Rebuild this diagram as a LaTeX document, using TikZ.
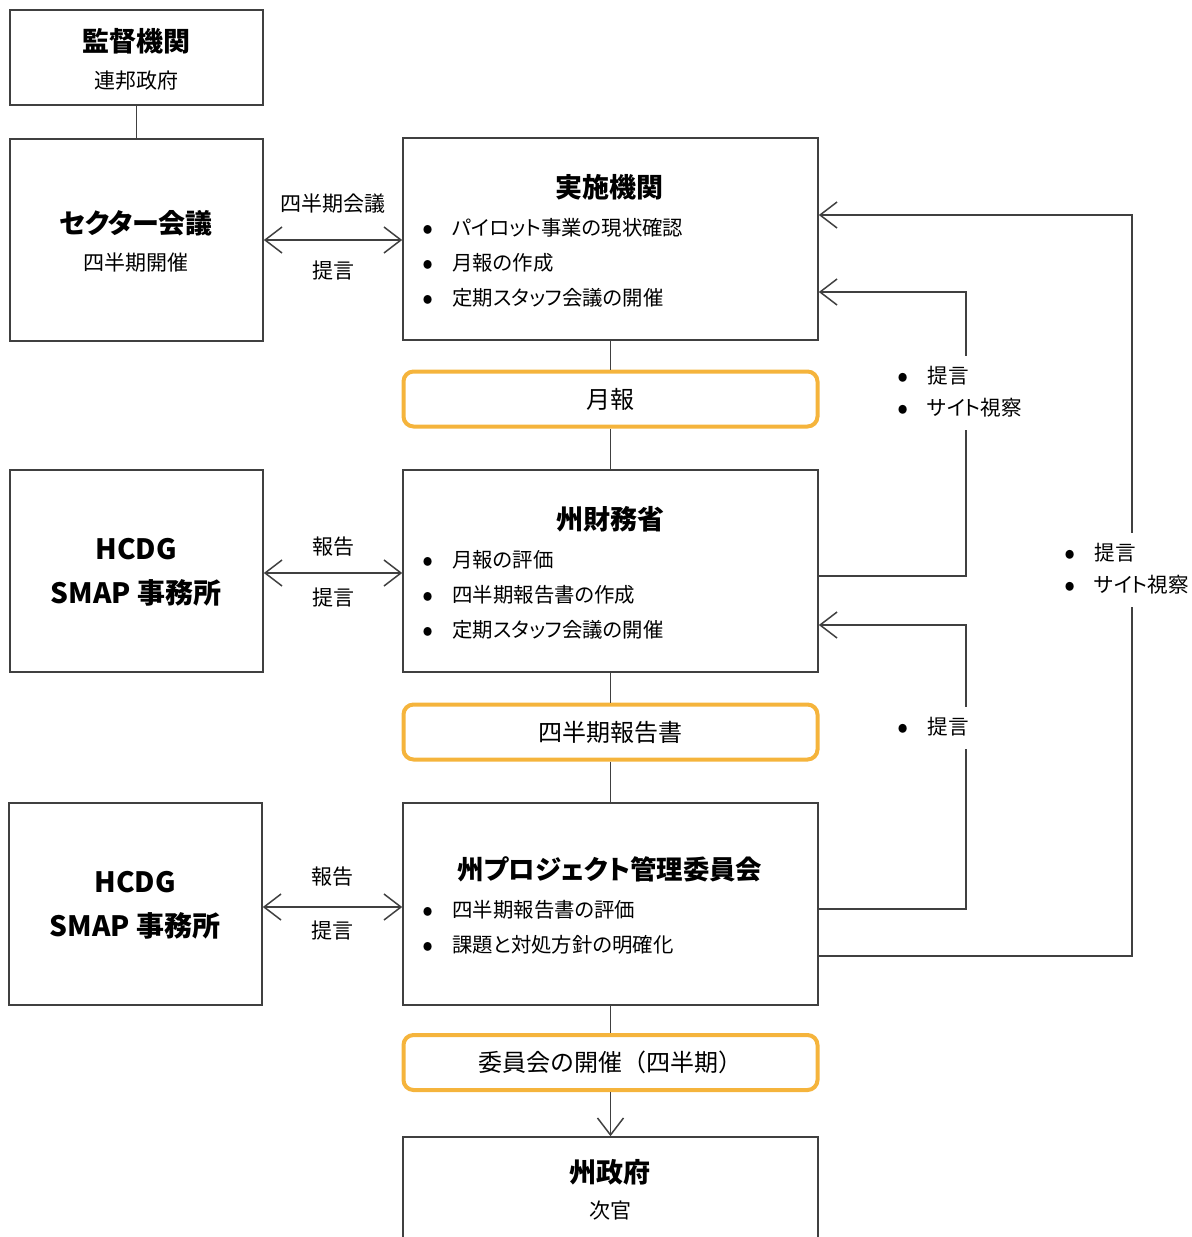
\documentclass[tikz,border=0pt]{standalone}
\usepackage{fontspec}
\setmainfont{Noto Sans CJK JP}[RawFeature=+palt]
\usetikzlibrary{arrows.meta, positioning}

\definecolor{linegray}{RGB}{64,64,64}
\definecolor{reportorange}{RGB}{245,180,60}

\newcommand{\titlefont}{\fontsize{13.5}{16}\selectfont\bfseries}
\newcommand{\bodyfont}{\fontsize{10.5}{17.5}\selectfont}
\newcommand{\itm}[1]{\makebox[24pt][c]{\raisebox{-0.22em}{\scalebox{1.6}{•}}}#1}

\begin{document}
\begin{tikzpicture}[
        x=0.5pt, y=-0.5pt,
        >={Straight Barb[length=8.5pt, width=13pt]},
        conn/.style={draw=linegray, line width=0.75pt},
        feedback/.style={conn, ->},
        sidebox/.style={draw=linegray, line width=0.8pt, minimum width=126.5pt, minimum height=101pt},
        mainbox/.style={draw=linegray, line width=0.8pt, minimum width=207.5pt, minimum height=101pt},
        flowbox/.style={draw=reportorange, line width=2pt, rounded corners=5pt,
            minimum width=207pt, minimum height=27.5pt, font=\fontsize{12}{14}\selectfont},
        title/.style={font=\titlefont, inner sep=0pt},
        sub/.style={font=\bodyfont, inner sep=0pt},
        itemlist/.style={font=\fontsize{10.2}{17.5}\selectfont, align=left, anchor=west, inner sep=0pt},
        edge label/.style={font=\bodyfont, inner sep=1pt},
        side label/.style={font=\fontsize{10.3}{16}\selectfont, align=left, anchor=west,
            fill=white, inner xsep=0pt, inner ysep=5pt},
    ]
    \useasboundingbox (0,0) rectangle (1192,1237);

    % left column
    \node[sidebox, minimum height=47.5pt] (super) at (136.5,57.5) {};
    \node[sidebox] (sector) at (136.5,240) {};
    \node[sidebox] (hcdg1) at (136.5,571) {};
    \node[sidebox] (hcdg2) at (135.5,904) {};

    % main column
    \node[mainbox] (impl) at (610.5,239) {};
    \node[flowbox] (monthly) at (610.5,399) {月報};
    \node[mainbox] (finance) at (610.5,571) {};
    \node[flowbox] (quarterly) at (610.5,732) {四半期報告書};
    \node[mainbox] (pmc) at (610.5,904) {};
    \node[flowbox] (meeting) at (610.5,1062.5) {\addfontfeature{RawFeature=-palt}委員会の開催（四半期）};
    \node[mainbox] (state) at (610.5,1238) {};

    % texts in the boxes
    \node[title] (super title) at (136,41) {監督機関};
    \node[sub] (super sub) at (136,81) {連邦政府};
    \node[title] (sector title) at (136,223) {セクター会議};
    \node[sub] (sector sub) at (136,263) {四半期開催};
    \node[title, align=center, font=\fontsize{14}{22}\selectfont\bfseries] (hcdg1 title) at (136,572) {HCDG\\SMAP 事務所};
    \node[title, align=center, font=\fontsize{14}{22}\selectfont\bfseries] (hcdg2 title) at (135,905) {HCDG\\SMAP 事務所};

    \node[title] (impl title) at (609,187) {実施機関};
    \node[itemlist] (impl items) at (404,264) {\itm{パイロット事業の現状確認}\\\itm{月報の作成}\\\itm{定期スタッフ会議の開催}};
    \node[title] (finance title) at (610,519) {州財務省};
    \node[itemlist] (finance items) at (404,596) {\itm{月報の評価}\\\itm{四半期報告書の作成}\\\itm{定期スタッフ会議の開催}};
    \node[title, font=\fontsize{13.2}{16}\selectfont\bfseries] (pmc title) at (610,869) {州プロジェクト管理委員会};
    \node[itemlist] (pmc items) at (404,928.5) {\itm{四半期報告書の評価}\\\itm{課題と対処方針の明確化}};
    \node[title] (state title) at (610,1172) {州政府};
    \node[sub] (state sub) at (610,1211) {次官};

    % vertical flow
    \draw[conn] (super) -- (sector);
    \draw[conn] (impl) -- (monthly);
    \draw[conn] (monthly) -- (finance);
    \draw[conn] (finance) -- (quarterly);
    \draw[conn] (quarterly) -- (pmc);
    \draw[conn] (pmc) -- (meeting);
    \draw[conn, ->] (meeting) -- (state);

    % exchanges with the left column
    \draw[conn, <->] (sector.east) -- (sector.east -| impl.west)
        node[edge label, midway, yshift=18pt] {四半期会議}
        node[edge label, midway, yshift=-15.5pt] {提言};
    \draw[conn, <->] ([yshift=-1pt]hcdg1.east) -- ([yshift=-1pt]hcdg1.east -| finance.west)
        node[edge label, midway, yshift=13pt] {報告}
        node[edge label, midway, yshift=-12.5pt] {提言};
    \draw[conn, <->] ([yshift=-1.5pt]hcdg2.east) -- ([yshift=-1.5pt]hcdg2.east -| pmc.west)
        node[edge label, midway, yshift=15pt] {報告}
        node[edge label, midway, yshift=-12pt] {提言};

    % feedback loops
    \draw[feedback] ([yshift=-2.5pt]finance.east) -- ++(147,0) |- (impl.east |- 0,292);
    \draw[feedback] ([yshift=-2.5pt]pmc.east) -- ++(147,0) |- (finance.east |- 0,625);
    \draw[feedback] (pmc.east |- 0,956) -- ++(313,0) |- (impl.east |- 0,215);

    \node[side label] (advice1) at (879,393) {\itm{提言}\\\itm{サイト視察}};
    \node[side label] (advice2) at (879,728) {\itm{提言}};
    \node[side label] (advice3) at (1046,570) {\itm{提言}\\\itm{サイト視察}};
\end{tikzpicture}
\end{document}
